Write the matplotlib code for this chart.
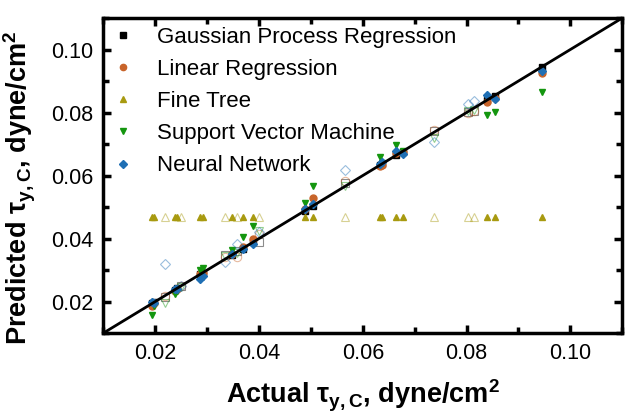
import matplotlib
matplotlib.use('Agg')
import matplotlib.pyplot as plt
from matplotlib.ticker import MultipleLocator

plt.rcParams['font.family'] = ['Liberation Sans', 'DejaVu Sans']
plt.rcParams['mathtext.fontset'] = 'custom'
plt.rcParams['mathtext.rm'] = 'Liberation Sans'
plt.rcParams['mathtext.bf'] = 'Liberation Sans:bold'

# actual values, training (filled) and testing (open)
x_train = [0.0194, 0.0198, 0.0238, 0.0242, 0.0287, 0.0292, 0.0348, 0.0369, 0.0388,
           0.0488, 0.0504, 0.0633, 0.0638, 0.0665, 0.0677, 0.0840, 0.0854, 0.0946]
x_test = [0.0219, 0.0250, 0.0335, 0.0358, 0.0400, 0.0565, 0.0738, 0.0802, 0.0815]

# predictions
gpr_train = [0.0196, 0.0199, 0.0237, 0.0242, 0.0288, 0.0291, 0.0349, 0.0368, 0.0389,
             0.0489, 0.0503, 0.0634, 0.0637, 0.0666, 0.0676, 0.0841, 0.0853, 0.0945]
gpr_test = [0.0215, 0.0248, 0.0349, 0.0359, 0.0390, 0.0575, 0.0740, 0.0802, 0.0805]

lr_train = [0.0187, 0.0195, 0.0235, 0.0240, 0.0286, 0.0292, 0.0350, 0.0374, 0.0400,
            0.0495, 0.0530, 0.0629, 0.0635, 0.0672, 0.0675, 0.0834, 0.0845, 0.0927]
lr_test = [0.0219, 0.0250, 0.0340, 0.0343, 0.0416, 0.0583, 0.0745, 0.0800, 0.0805]

ft_train = [0.047] * 18
ft_test = [0.047] * 9

svm_train = [0.0156, 0.0185, 0.0225, 0.0235, 0.0300, 0.0308, 0.0365, 0.0406, 0.0441,
             0.0514, 0.0568, 0.0660, 0.0640, 0.0698, 0.0679, 0.0793, 0.0802, 0.0866]
svm_test = [0.0194, 0.0245, 0.0345, 0.0355, 0.0425, 0.0568, 0.0720, 0.0805, 0.0808]

nn_train = [0.0200, 0.0195, 0.0241, 0.0241, 0.0273, 0.0282, 0.0350, 0.0368, 0.0384,
            0.0495, 0.0511, 0.0638, 0.0644, 0.0679, 0.0670, 0.0857, 0.0844, 0.0933]
nn_test = [0.0320, 0.0248, 0.0327, 0.0384, 0.0422, 0.0619, 0.0708, 0.0828, 0.0837]

models = [
    ('Gaussian Process Regression', 's', 'black', gpr_train, gpr_test),
    ('Linear Regression', 'o', '#c8642a', lr_train, lr_test),
    ('Fine Tree', '^', '#a89a10', ft_train, ft_test),
    ('Support Vector Machine', 'v', '#14960f', svm_train, svm_test),
    ('Neural Network', 'D', '#1f6fb4', nn_train, nn_test),
]

fig = plt.figure(figsize=(6.26, 4.19), dpi=100)
ax = fig.add_axes([0.165, 0.205, 0.829, 0.752])

for name, mk, col, ytr, yte in models:
    ms = 5 if mk != 'D' else 4.5
    ax.plot(x_test, yte, mk, ls='none', mfc='none', mec=col, alpha=0.45, ms=ms + 1, mew=0.8)
    ax.plot(x_train, ytr, mk, ls='none', color=col, ms=ms, label=name)

ax.plot([0.01, 0.11], [0.01, 0.11], color='black', lw=2)

ax.set_xlim(0.01, 0.11)
ax.set_ylim(0.01, 0.11)
ax.xaxis.set_major_locator(MultipleLocator(0.02))
ax.yaxis.set_major_locator(MultipleLocator(0.02))
ax.xaxis.set_minor_locator(MultipleLocator(0.01))
ax.yaxis.set_minor_locator(MultipleLocator(0.01))
ax.xaxis.set_major_formatter(plt.FormatStrFormatter('%.2f'))
ax.yaxis.set_major_formatter(plt.FormatStrFormatter('%.2f'))
ax.tick_params(which='both', direction='in', top=True, right=True, labelsize=15.5, pad=7)
ax.tick_params(which='major', length=6, width=2.5)
ax.tick_params(which='minor', length=4, width=2.5)
for s in ax.spines.values():
    s.set_linewidth(2.5)

ax.set_xlabel(r'Actual τ$_{\mathbf{y,C}}$, dyne/cm$^{\mathbf{2}}$', fontsize=19.5, fontweight='bold', labelpad=10)
ax.set_ylabel(r'Predicted τ$_{\mathbf{y,C}}$, dyne/cm$^{\mathbf{2}}$', fontsize=19.5, fontweight='bold')
ax.yaxis.set_label_coords(-0.125, 0.46)

ax.legend(loc='upper left', frameon=False, fontsize=16, markerscale=0.9, handletextpad=1.0,
          labelspacing=0.5, borderaxespad=0.1, borderpad=0.3, handlelength=1.0)

fig.savefig('out.png', dpi=100)
